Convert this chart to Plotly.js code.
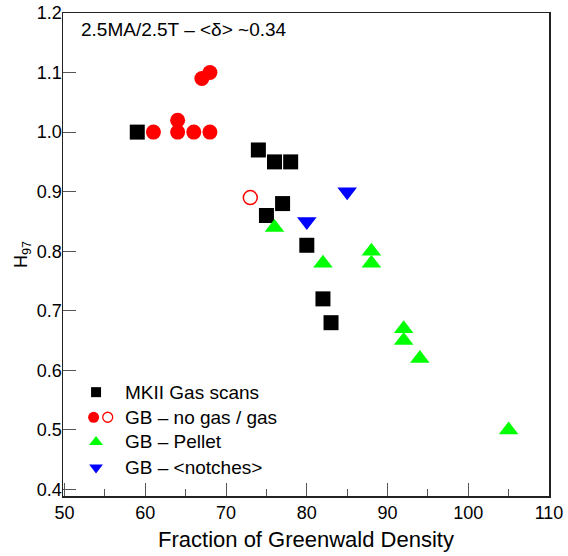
<!DOCTYPE html>
<html>
<head>
<meta charset="utf-8">
<script src="https://cdn.plot.ly/plotly-3.0.1.min.js"></script>
<style>
  html, body { margin: 0; padding: 0; background: #fff; }
  #chart { width: 568px; height: 556px; }
</style>
</head>
<body>
<div id="chart"></div>
<script>
// H97 confinement factor versus fraction of Greenwald density
const mkiiX = [59, 74, 76, 78, 77, 75, 80, 82, 83];
const mkiiY = [1.00, 0.97, 0.95, 0.95, 0.88, 0.86, 0.81, 0.72, 0.68];

const gbNoGasX = [61, 64, 64, 66, 68, 67, 68];
const gbNoGasY = [1.00, 1.00, 1.02, 1.00, 1.00, 1.09, 1.10];

const gbGasX = [73];
const gbGasY = [0.89];

const pelletX = [76, 82, 88, 88, 92, 92, 94, 105];
const pelletY = [0.84, 0.78, 0.80, 0.78, 0.67, 0.65, 0.62, 0.50];

const notchX = [85, 80];
const notchY = [0.90, 0.85];

const legendLabels = ["MKII Gas scans", "GB \u2013 no gas / gas", "GB \u2013 Pellet", "GB \u2013 <notches>"];
const headerText = "2.5MA/2.5T \u2013 <\u03b4> ~0.34";

const FONT = "Liberation Sans, Arial, Helvetica, sans-serif";
const BLACK = "#000000", RED = "#ff0000", GREEN = "#00ff00", BLUE = "#0000ff";
const esc = s => s.replace(/</g, "&lt;").replace(/>/g, "&gt;");

const traces = [
  { x: mkiiX, y: mkiiY, type: "scatter", mode: "markers",
    marker: { symbol: "square", size: 15, color: BLACK } },
  { x: gbNoGasX, y: gbNoGasY, type: "scatter", mode: "markers",
    marker: { symbol: "circle", size: 15, color: RED } },
  { x: gbGasX, y: gbGasY, type: "scatter", mode: "markers",
    marker: { symbol: "circle-open", size: 14, color: RED, line: { width: 1.5, color: RED } } },
  { x: pelletX, y: pelletY, type: "scatter", mode: "markers",
    marker: { symbol: "triangle-up", size: 17, color: GREEN } },
  { x: notchX, y: notchY, type: "scatter", mode: "markers",
    marker: { symbol: "triangle-down", size: 17, color: BLUE } }
];

// Legend keys drawn on an overlay axis spanning [0,1] of the plot area
const rowY = [0.215, 0.163, 0.112, 0.059];
const keyX = 0.068, keyX2 = 0.092, textX = 0.124;
traces.push(
  { x: [keyX], y: [rowY[0]], xaxis: "x2", yaxis: "y2", type: "scatter", mode: "markers",
    marker: { symbol: "square", size: 10, color: BLACK } },
  { x: [keyX - 0.005], y: [rowY[1]], xaxis: "x2", yaxis: "y2", type: "scatter", mode: "markers",
    marker: { symbol: "circle", size: 11, color: RED } },
  { x: [keyX2], y: [rowY[1]], xaxis: "x2", yaxis: "y2", type: "scatter", mode: "markers",
    marker: { symbol: "circle-open", size: 10, color: RED, line: { width: 1.3, color: RED } } },
  { x: [keyX], y: [rowY[2]], xaxis: "x2", yaxis: "y2", type: "scatter", mode: "markers",
    marker: { symbol: "triangle-up", size: 12, color: GREEN } },
  { x: [keyX], y: [rowY[3]], xaxis: "x2", yaxis: "y2", type: "scatter", mode: "markers",
    marker: { symbol: "triangle-down", size: 12, color: BLUE } }
);

const annotations = legendLabels.map((t, i) => ({
  xref: "x2", yref: "y2", x: textX, y: rowY[i], text: esc(t),
  showarrow: false, xanchor: "left", yanchor: "middle",
  font: { family: FONT, size: 19, color: "#000" }
}));
annotations.push({
  xref: "paper", yref: "paper", x: 0.033, y: 0.966, xanchor: "left", yanchor: "middle",
  text: esc(headerText), showarrow: false,
  font: { family: FONT, size: 19, color: "#000" }
});

const layout = {
  width: 568, height: 556,
  margin: { l: 63, r: 19, t: 13, b: 60 },
  paper_bgcolor: "#fff", plot_bgcolor: "#fff",
  showlegend: false,
  font: { family: FONT, size: 18, color: "#000" },
  xaxis: {
    range: [49.8, 110], tickvals: [50, 60, 70, 80, 90, 100, 110],
    ticks: "inside", ticklen: 13, tickwidth: 1, tickcolor: "#555",
    minor: { tickvals: [55, 65, 75, 85, 95, 105], ticks: "inside", ticklen: 7, tickwidth: 1, tickcolor: "#555" },
    showline: true, linecolor: "#222", linewidth: 1.5, mirror: true,
    showgrid: false, zeroline: false,
    tickfont: { family: FONT, size: 18, color: "#000" },
    title: { text: "Fraction of Greenwald Density", font: { family: FONT, size: 22, color: "#000" }, standoff: 9 }
  },
  yaxis: {
    range: [0.389, 1.2], tickvals: [0.4, 0.5, 0.6, 0.7, 0.8, 0.9, 1.0, 1.1, 1.2], tickformat: ".1f",
    ticks: "inside", ticklen: 13, tickwidth: 1, tickcolor: "#555",
    ticklabelstandoff: -4,
    showline: true, linecolor: "#222", linewidth: 1.5, mirror: true,
    showgrid: false, zeroline: false,
    tickfont: { family: FONT, size: 18, color: "#000" },
    title: { text: "H<sub>97</sub>", font: { family: FONT, size: 18, color: "#000" }, standoff: 4 }
  },
  xaxis2: { overlaying: "x", range: [0, 1], visible: false, fixedrange: true },
  yaxis2: { overlaying: "y", range: [0, 1], visible: false, fixedrange: true },
  annotations: annotations
};

Plotly.newPlot("chart", traces, layout, { staticPlot: true, displayModeBar: false });
</script>
</body>
</html>
